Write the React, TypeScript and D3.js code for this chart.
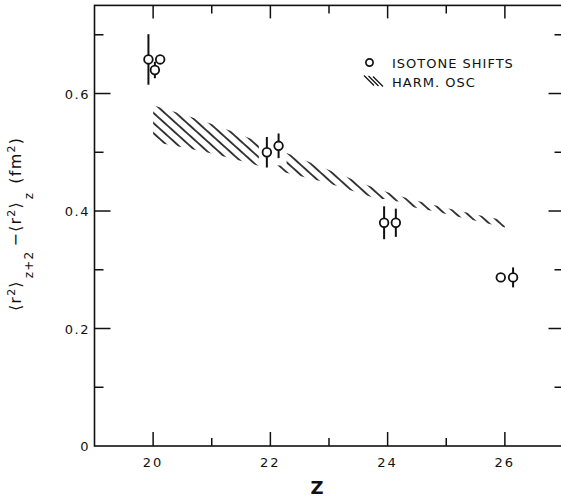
import React from 'react';
import * as d3 from 'd3';

const W = 561;
const H = 497;

// axes
const xDomain = [19, 27];
const yDomain = [0, 0.75];
const xMajorTicks = [20, 22, 24, 26];
const xMinorTicks = [21, 23, 25];
const yMajorTicks = [0.2, 0.4, 0.6];
const yMinorTicks = [0.1, 0.3, 0.5, 0.7];
const yLabelValues = [0, 0.2, 0.4, 0.6];
const yLabelTexts = ['0', '0.2', '0.4', '0.6'];

// isotone shift data
const pointZ = [19.92, 20.03, 20.12, 21.94, 22.14, 23.94, 24.14, 25.93, 26.14];
const pointVal = [0.658, 0.64, 0.658, 0.5, 0.511, 0.38, 0.38, 0.287, 0.287];
const pointErr = [0.043, 0.014, 0.0, 0.026, 0.021, 0.028, 0.024, 0.006, 0.017];

// harmonic oscillator band
const bandZ = [20, 21, 22, 23, 24, 25, 26];
const bandUpper = [0.58, 0.548, 0.51, 0.47, 0.432, 0.405, 0.384];
const bandLower = [0.518, 0.498, 0.472, 0.447, 0.416, 0.395, 0.372];

const FONT = "'DejaVu Sans', 'Liberation Sans', sans-serif";

export default function App() {
  const x = d3.scaleLinear().domain(xDomain).range([94.5, 563.5]);
  const y = d3.scaleLinear().domain(yDomain).range([446, 5.4]);
  const x0 = x(xDomain[0]);
  const x1 = x(xDomain[1]);
  const y0 = y(yDomain[0]);
  const y1 = y(yDomain[1]);

  const band = d3
    .area<number>()
    .x((d) => x(d))
    .y0((_, i) => y(bandLower[i]))
    .y1((_, i) => y(bandUpper[i]))
    .curve(d3.curveMonotoneX)(bandZ) as string;

  const r = 4.3;

  return (
    <svg
      width={W}
      height={H}
      style={{ position: 'absolute', left: 0, top: 0, background: '#fff' }}
      fontFamily={FONT}
    >
      <defs>
        <pattern
          id="hatch"
          patternUnits="userSpaceOnUse"
          width={10}
          height={7.5}
          patternTransform="rotate(42)"
        >
          <line x1={0} y1={3.75} x2={10} y2={3.75} stroke="#000" strokeWidth={1.5} />
        </pattern>
        <clipPath id="bandClip">
          <path d={band} />
        </clipPath>
        <mask id="ptMask">
          <rect x={0} y={0} width={W} height={H} fill="#fff" />
          {pointZ.map((z, i) => (
            <rect
              key={i}
              x={x(z) - 8}
              y={y(pointVal[i] + pointErr[i]) - r - 3}
              width={16}
              height={y(pointVal[i] - pointErr[i]) - y(pointVal[i] + pointErr[i]) + 2 * r + 6}
              fill="#000"
            />
          ))}
        </mask>
      </defs>
      <rect x={0} y={0} width={W} height={H} fill="#fff" />

      {/* hatched band */}
      <g mask="url(#ptMask)">
        <rect
          x={x(bandZ[0]) - 5}
          y={y(0.6)}
          width={x(bandZ[bandZ.length - 1]) - x(bandZ[0]) + 10}
          height={y(0.35) - y(0.6)}
          fill="url(#hatch)"
          clipPath="url(#bandClip)"
        />
      </g>

      {/* frame */}
      <rect x={x0} y={y1} width={x1 - x0} height={y0 - y1} fill="none" stroke="#111" strokeWidth={1.6} />

      {/* x ticks bottom and top */}
      {xMajorTicks.map((t) => (
        <g key={'xM' + t}>
          <line x1={x(t)} x2={x(t)} y1={y0} y2={y0 - 14} stroke="#111" strokeWidth={1.5} />
          <line x1={x(t)} x2={x(t)} y1={y1} y2={y1 + 13} stroke="#111" strokeWidth={1.5} />
          <text x={x(t)} y={467} textAnchor="middle" fontSize={13} letterSpacing={2} fill="#111">
            {t}
          </text>
        </g>
      ))}
      {xMinorTicks.map((t) => (
        <g key={'xm' + t}>
          <line x1={x(t)} x2={x(t)} y1={y0} y2={y0 - 8} stroke="#111" strokeWidth={1.5} />
          <line x1={x(t)} x2={x(t)} y1={y1} y2={y1 + 8} stroke="#111" strokeWidth={1.5} />
        </g>
      ))}

      {/* y ticks left and right */}
      {yMajorTicks.map((t) => (
        <g key={'yM' + t}>
          <line x1={x0} x2={x0 + 16} y1={y(t)} y2={y(t)} stroke="#111" strokeWidth={1.5} />
          <line x1={x1} x2={x1 - 15} y1={y(t)} y2={y(t)} stroke="#111" strokeWidth={1.5} />
        </g>
      ))}
      {yMinorTicks.map((t) => (
        <g key={'ym' + t}>
          <line x1={x0} x2={x0 + 9} y1={y(t)} y2={y(t)} stroke="#111" strokeWidth={1.5} />
          <line x1={x1} x2={x1 - 9} y1={y(t)} y2={y(t)} stroke="#111" strokeWidth={1.5} />
        </g>
      ))}
      {yLabelValues.map((v, i) => (
        <text
          key={'yl' + v}
          x={90}
          y={y(v) + 5}
          textAnchor="end"
          fontSize={13}
          letterSpacing={1.5}
          fill="#111"
        >
          {yLabelTexts[i]}
        </text>
      ))}

      {/* axis titles */}
      <text x={317} y={494} textAnchor="middle" fontSize={18} fontWeight="bold" fill="#111">
        Z
      </text>
      <text
        transform="translate(21,224) rotate(-90)"
        textAnchor="middle"
        fontSize={16}
        letterSpacing={1.2}
        fill="#111"
      >
        <tspan>⟨r</tspan>
        <tspan fontSize={11} dy={-6}>2</tspan>
        <tspan dy={6}>⟩</tspan>
        <tspan fontSize={12} dy={12} dx={2}>z+2</tspan>
        <tspan dy={-12} dx={4}>−⟨r</tspan>
        <tspan fontSize={11} dy={-6}>2</tspan>
        <tspan dy={6}>⟩</tspan>
        <tspan fontSize={12} dy={12} dx={2}>z</tspan>
        <tspan dy={-12} dx={8}>(fm</tspan>
        <tspan fontSize={11} dy={-6}>2</tspan>
        <tspan dy={6}>)</tspan>
      </text>

      {/* data points */}
      {pointZ.map((z, i) => {
        const cx = x(z);
        const cy = y(pointVal[i]);
        const e = pointErr[i];
        return (
          <g key={'p' + i}>
            {e > 0 && (
              <line
                x1={cx}
                x2={cx}
                y1={y(pointVal[i] + e)}
                y2={y(pointVal[i] - e)}
                stroke="#111"
                strokeWidth={2}
              />
            )}
            <circle cx={cx} cy={cy} r={r} fill="#fff" stroke="#111" strokeWidth={1.8} />
          </g>
        );
      })}

      {/* legend */}
      <circle cx={369.5} cy={62.5} r={3.6} fill="#fff" stroke="#111" strokeWidth={1.7} />
      <text x={392} y={67.5} fontSize={13} letterSpacing={1} fill="#111">
        ISOTONE SHIFTS
      </text>
      {[0, 1, 2].map((k) => (
        <line
          key={'lh' + k}
          x1={364 + k * 4.5}
          y1={75.5 + k * 0.5}
          x2={374 + k * 4.5}
          y2={85.5 + k * 0.5}
          stroke="#111"
          strokeWidth={1.3}
        />
      ))}
      <text x={392} y={86.5} fontSize={13} letterSpacing={1} fill="#111">
        HARM. OSC
      </text>
    </svg>
  );
}
